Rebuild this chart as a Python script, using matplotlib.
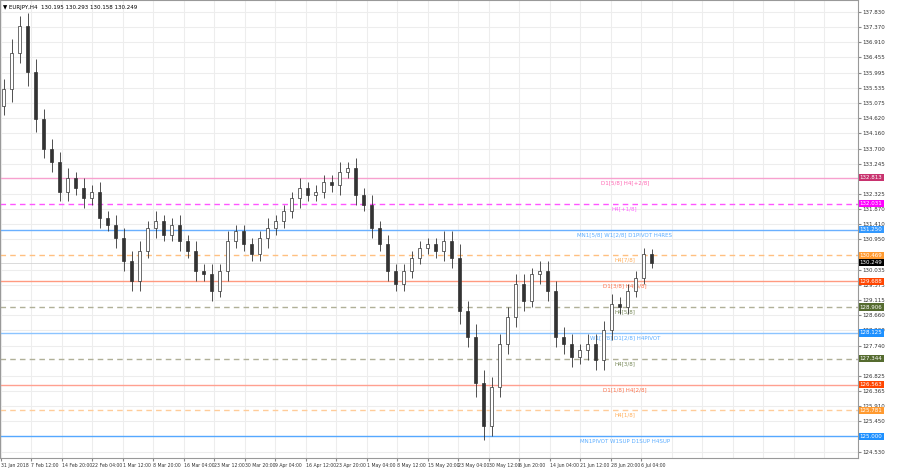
import matplotlib.pyplot as plt

# chart data
closes = [135.5, 136.6, 137.4, 136.0, 134.6, 133.7, 133.3, 132.4, 132.8, 132.5,
          132.2, 132.4, 131.6, 131.4, 131.0, 130.3, 129.7, 130.6, 131.3, 131.5,
          131.1, 131.4, 130.9, 130.6, 130.0, 129.9, 129.4, 130.0, 130.9, 131.2,
          130.8, 130.5, 131.0, 131.3, 131.5, 131.8, 132.2, 132.5, 132.3, 132.4,
          132.7, 132.6, 133.0, 133.1, 132.3, 132.0, 131.3, 130.8, 130.0, 129.6,
          130.0, 130.4, 130.7, 130.8, 130.6, 130.9, 130.4, 128.8, 128.0, 126.6,
          125.3, 126.5, 127.8, 128.6, 129.6, 129.1, 129.9, 130.0, 129.4, 128.0,
          127.8, 127.4, 127.6, 127.8, 127.3, 128.2, 129.0, 128.9, 129.4, 129.8,
          130.5, 130.25]
wicks = [0.3, 0.4, 0.3, 0.4, 0.4, 0.3, 0.3, 0.3, 0.3, 0.2,
         0.3, 0.2, 0.3, 0.2, 0.3, 0.3, 0.3, 0.3, 0.2, 0.3,
         0.2, 0.2, 0.3, 0.2, 0.3, 0.2, 0.3, 0.2, 0.3, 0.2,
         0.2, 0.2, 0.2, 0.3, 0.2, 0.2, 0.2, 0.3, 0.2, 0.2,
         0.2, 0.2, 0.3, 0.2, 0.3, 0.2, 0.3, 0.2, 0.3, 0.2,
         0.2, 0.2, 0.2, 0.2, 0.2, 0.3, 0.3, 0.4, 0.3, 0.4,
         0.4, 0.3, 0.3, 0.3, 0.3, 0.3, 0.2, 0.3, 0.3, 0.3,
         0.3, 0.3, 0.2, 0.3, 0.3, 0.3, 0.3, 0.2, 0.2, 0.2,
         0.2, 0.15]
first_open = 135.0

level_prices = [132.813, 132.031, 131.250, 130.469, 129.688, 128.906,
                128.125, 127.344, 126.563, 125.781, 125.000]
level_names = ["D1[5/8] H4[+2/8]", "H4[+1/8]", "MN1[5/8] W1[2/8] D1PIVOT H4RES",
               "H4[7/8]", "D1[3/8] H4[6/8]", "H4[5/8]", "W1[1/8] D1[2/8] H4PIVOT",
               "H4[3/8]", "D1[1/8] H4[2/8]", "H4[1/8]", "MN1PIVOT W1SUP D1SUP H4SUP"]
level_colors = ["#f7a1cf", "#ff55ff", "#6ab0ff", "#ffc080", "#ff9a80", "#b0b098",
                "#8cc4ff", "#b0b098", "#ffa090", "#ffcc99", "#55a8ff"]
level_text_colors = ["#ff40a0", "#ff40ff", "#3399ff", "#ff9a30", "#ff5020", "#556b2f",
                     "#3399ff", "#556b2f", "#ff5020", "#ff9a30", "#3399ff"]
level_box_colors = ["#c8326e", "#ff00ff", "#3399ff", "#ff9a30", "#ff4500", "#556b2f",
                    "#1e90ff", "#556b2f", "#ff4500", "#ff9a30", "#1e90ff"]
level_dashed = [False, True, False, True, False, True, False, True, False, True, False]

y_ticks = [137.830, 137.370, 136.910, 136.455, 135.995, 135.535, 135.075, 134.620,
           134.160, 133.700, 133.245, 132.325, 131.870, 131.410, 130.950, 130.035,
           129.575, 129.115, 128.660, 128.200, 127.740, 126.825, 126.365, 125.910,
           125.450, 124.530]
date_labels = ["31 Jan 2018", "7 Feb 12:00", "14 Feb 20:00", "22 Feb 04:00",
               "1 Mar 12:00", "8 Mar 20:00", "16 Mar 04:00", "23 Mar 12:00",
               "30 Mar 20:00", "9 Apr 04:00", "16 Apr 12:00", "23 Apr 20:00",
               "1 May 04:00", "8 May 12:00", "15 May 20:00", "23 May 04:00",
               "30 May 12:00", "6 Jun 20:00", "14 Jun 04:00", "21 Jun 12:00",
               "28 Jun 20:00", "6 Jul 04:00"]

fig = plt.figure(figsize=(9, 4.7), dpi=100)
ax = fig.add_axes([0.0, 0.026, 0.953, 0.974])
x_max = 858
ax.set_xlim(0, x_max)
ax.set_ylim(124.35, 138.19)
fs = 4.0

# grid
for i in range(28):
    ax.axvline(i * 30.5 + 1, color="#ededed", lw=0.8, zorder=0)
for p in y_ticks:
    ax.axhline(p, color="#ededed", lw=0.8, zorder=0)

# levels
for p, name, c, tc, bc, d in zip(level_prices, level_names, level_colors,
                                 level_text_colors, level_box_colors, level_dashed):
    ax.axhline(p, color=c, lw=1.0, ls=(0, (4, 3)) if d else "-", zorder=1)
    ax.text(625, p - 0.07, name, color=tc, fontsize=fs, ha="center", va="top",
            alpha=0.8, zorder=3)
    ax.text(x_max + 2, p, f"{p:.3f}", color="white", fontsize=fs, va="center",
            ha="left", clip_on=False, zorder=7,
            bbox=dict(boxstyle="square,pad=0.2", fc=bc, ec="none"))

# candles
prev = first_open
for i, (c, w) in enumerate(zip(closes, wicks)):
    x = i * 8 + 4
    lo, hi = min(prev, c), max(prev, c)
    ax.vlines(x, lo - w, hi + w, color="#333333", lw=0.6, zorder=4)
    ax.bar(x, max(hi - lo, 0.03), bottom=lo, width=3,
           color="white" if c >= prev else "#333333", edgecolor="#333333",
           lw=0.5, zorder=5)
    prev = c

ax.axhline(closes[-1], color="#cccccc", lw=0.5, zorder=1)
ax.text(x_max + 2, closes[-1], f"{closes[-1] - 0.001:.3f}", color="white",
        fontsize=fs, va="center", ha="left", clip_on=False, zorder=8,
        bbox=dict(boxstyle="square,pad=0.2", fc="black", ec="none"))

ax.yaxis.tick_right()
ax.set_yticks(y_ticks)
ax.set_yticklabels([f"{p:.3f}" for p in y_ticks], fontsize=fs, color="#333333")
ax.set_xticks([i * 30.5 + 1 for i in range(len(date_labels))])
ax.set_xticklabels(date_labels, fontsize=3.3, ha="left", color="#333333")
ax.tick_params(length=2, pad=1.5, color="#888888")
for s in ax.spines.values():
    s.set_color("#999999")
    s.set_linewidth(0.8)

ax.text(3, 137.95, "▼ EURJPY,H4  130.195 130.293 130.158 130.249",
        fontsize=fs, va="center", zorder=6)

fig.savefig("out.png", dpi=100)
